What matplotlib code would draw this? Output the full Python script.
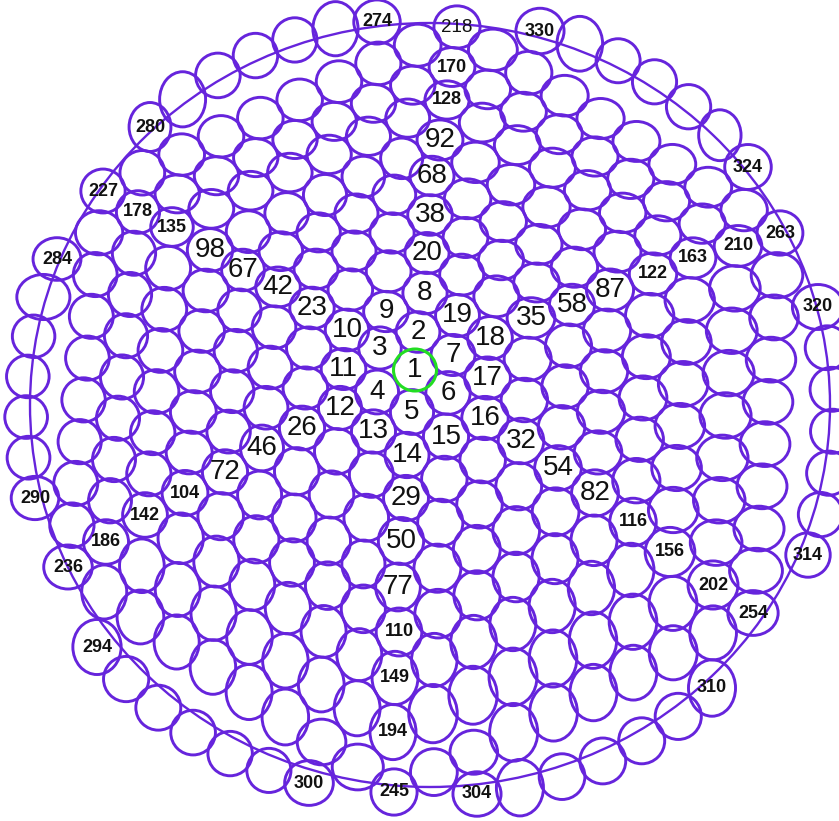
import numpy as np
import matplotlib.pyplot as plt
from matplotlib.patches import Ellipse

# --- Data: circle centres (pixel coords) ---
centre_x, centre_y = 415, 370

# hexagonal rings 1..9, corner circles in order: top, upper-left, lower-left,
# bottom, lower-right, upper-right
corner_x = [
    [418, 380, 377, 412, 448, 453],
    [425, 347, 340, 407, 485, 490],
    [427, 312, 302, 406, 521, 531],
    [430, 278, 262, 401, 558, 572],
    [432, 243, 225, 398, 595, 610],
    [440, 210, 185, 399, 633, 653],
    [447, 172, 145, 395, 670, 693],
    [452, 138, 106, 393, 713, 738],
    [457, 103, 68, 394, 753, 780],
]
corner_y = [
    [332, 348, 392, 412, 393, 355],
    [293, 330, 408, 455, 418, 338],
    [253, 308, 428, 498, 441, 318],
    [215, 287, 448, 541, 468, 305],
    [176, 270, 472, 587, 493, 290],
    [140, 250, 493, 632, 522, 274],
    [100, 227, 515, 678, 552, 258],
    [67, 212, 542, 732, 585, 246],
    [27, 191, 567, 792, 613, 233],
]

# outer (10th) ring: runs of circles between two labelled ones
outer_first = [274, 284, 294, 304, 314, 324]
outer_first_x = [377, 57, 97, 477, 808, 748]
outer_first_y = [22, 259, 647, 794, 555, 167]
outer_last = [280, 290, 300, 310, 320, 330]
outer_last_x = [150, 35, 309, 712, 818, 540]
outer_last_y = [127, 498, 783, 688, 307, 31]

# labels
big_labels = [1, 2, 3, 4, 5, 6, 7, 8, 9, 10, 11, 12, 13, 14, 15, 16, 17, 18, 19,
              20, 23, 26, 29, 32, 35, 38, 42, 46, 50, 54, 58, 67, 68, 72, 77, 82,
              87, 92, 98]
bold_labels = [104, 110, 116, 122, 128, 135, 142, 149, 156, 163, 170, 178, 186,
               194, 202, 210, 227, 236, 245, 254, 263, 274, 280, 284, 290, 294,
               300, 304, 310, 314, 320, 324, 330]
plain_small_labels = [218]
label_slot = {68: 62}   # "68" sits on the top slot of ring 5

# boundary circle
bound_cx, bound_cy, bound_w, bound_h = 430, 405, 800, 764

# --- Layout ---
pos = {1: (centre_x, centre_y)}
for k in range(1, 10):
    cx = np.array(corner_x[k - 1], float)
    cy = np.array(corner_y[k - 1], float)
    start = 3 * k * (k - 1) + 2
    for s in range(6 * k):
        e, t = divmod(s, k)
        t = t / k
        e2 = (e + 1) % 6
        pos[start + s] = (cx[e] + t * (cx[e2] - cx[e]), cy[e] + t * (cy[e2] - cy[e]))

for n0, x0, y0, n1, x1, y1 in zip(outer_first, outer_first_x, outer_first_y,
                                  outer_last, outer_last_x, outer_last_y):
    a0 = np.arctan2(y0 - bound_cy, x0 - bound_cx)
    a1 = np.arctan2(y1 - bound_cy, x1 - bound_cx)
    da = (a1 - a0 + np.pi) % (2 * np.pi) - np.pi
    r0 = np.hypot(x0 - bound_cx, y0 - bound_cy)
    r1 = np.hypot(x1 - bound_cx, y1 - bound_cy)
    for i, n in enumerate(range(n0, n1 + 1)):
        t = i / (n1 - n0)
        a = a0 + t * da
        r = r0 + t * (r1 - r0)
        pos[n] = (bound_cx + r * np.cos(a), bound_cy + r * np.sin(a))

# ellipse size for each circle: fit semi-axes so it touches its neighbours
keys = list(pos.keys())
pts = np.array([pos[n] for n in keys])
dist = np.hypot(pts[:, None, 0] - pts[None, :, 0], pts[:, None, 1] - pts[None, :, 1])
np.fill_diagonal(dist, np.inf)
size = {}
for i, n in enumerate(keys):
    d = dist[i]
    dmin = d.min()
    nb = np.where(d < 1.3 * dmin)[0]
    u = (pts[nb] - pts[i]) / d[nb, None]
    A = u ** 2
    b = 4.0 / d[nb] ** 2
    a_, b_ = dmin / 2, dmin / 2
    if len(nb) >= 3:
        (p, q), *_ = np.linalg.lstsq(A, b, rcond=None)
        if p > 0 and q > 0:
            a_, b_ = 1 / np.sqrt(p), 1 / np.sqrt(q)
    g = np.clip(np.sqrt(a_ * b_), 19, 26)
    ratio = np.clip(b_ / a_, 0.85, 1.2)
    a_ = g / np.sqrt(ratio) * 1.05
    b_ = g * np.sqrt(ratio) * 1.05
    size[n] = (2 * a_, 2 * b_)

purple = '#6624DC'
green = '#22DD22'

fig = plt.figure(figsize=(8.39, 8.21), dpi=100)
ax = fig.add_axes([0, 0, 1, 1])
ax.set_xlim(0, 839)
ax.set_ylim(821, 0)
ax.axis('off')

for n, (x, y) in pos.items():
    w, h = size[n]
    if n == 1:
        ax.add_patch(Ellipse((x, y), 43, 42, fill=False, ec=green, lw=2.2, zorder=4))
    else:
        ax.add_patch(Ellipse((x, y), w, h, fill=False, ec=purple, lw=2.1, zorder=2))

ax.add_patch(Ellipse((bound_cx, bound_cy), bound_w, bound_h, fill=False,
                     ec=purple, lw=1.7, zorder=3))

font = 'Liberation Sans'
for n in big_labels:
    x, y = pos[label_slot.get(n, n)]
    ax.text(x, y, str(n), ha='center', va='center', fontsize=20,
            family=font, color='#111111', zorder=5)
for n in bold_labels:
    x, y = pos[n]
    ax.text(x, y, str(n), ha='center', va='center', fontsize=13,
            family=font, fontweight='bold', color='#111111', zorder=5)
for n in plain_small_labels:
    x, y = pos[n]
    ax.text(x, y, str(n), ha='center', va='center', fontsize=13.5,
            family=font, color='#111111', zorder=5)

plt.savefig('out.png', dpi=100, facecolor='white')
